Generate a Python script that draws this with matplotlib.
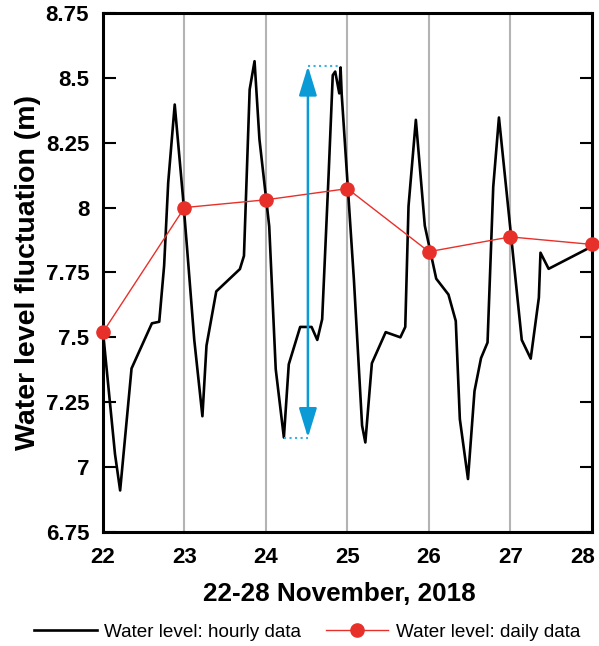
import matplotlib
matplotlib.use("Agg")
import matplotlib.pyplot as plt
from matplotlib.transforms import ScaledTranslation

plt.rcParams['font.family'] = ['Liberation Sans', 'DejaVu Sans']

# Daily data
days_d = [22, 23, 24, 25, 26, 27, 28]
vals_d = [7.52, 8.00, 8.03, 8.073, 7.83, 7.887, 7.858]

# Hourly data (vertices)
days_h = [22.0, 22.147, 22.21, 22.35, 22.60, 22.69, 22.75, 22.80, 22.88, 22.98,
          23.03, 23.12, 23.22, 23.27, 23.39, 23.68, 23.73, 23.80, 23.86, 23.92,
          24.04, 24.12, 24.22, 24.28, 24.42, 24.56, 24.63, 24.69, 24.77,
          24.82, 24.85, 24.90, 24.916, 24.93,
          25.08, 25.18, 25.22, 25.30, 25.47, 25.65, 25.71, 25.75, 25.84, 25.95,
          26.09, 26.24, 26.33, 26.38, 26.48, 26.56, 26.64, 26.72, 26.79, 26.86,
          27.14, 27.25, 27.35, 27.37, 27.47, 28.0]
vals_h = [7.52, 7.05, 6.91, 7.38, 7.554, 7.56, 7.776, 8.096, 8.397, 8.045,
          7.85, 7.49, 7.196, 7.468, 7.677, 7.763, 7.814, 8.455, 8.564, 8.263,
          7.928, 7.377, 7.114, 7.396, 7.54, 7.54, 7.49, 7.57, 8.133,
          8.51, 8.524, 8.44, 8.54, 8.435,
          7.72, 7.16, 7.095, 7.40, 7.52, 7.50, 7.54, 8.005, 8.338, 7.93,
          7.726, 7.665, 7.563, 7.185, 6.954, 7.293, 7.42, 7.48, 8.08, 8.347,
          7.49, 7.418, 7.653, 7.826, 7.764, 7.85]

# Range annotation (min/max of the fluctuation)
arrow_day = 24.515
range_low = 7.114
range_high = 8.545
low_day = 24.22
high_day = 24.916

yticks = [6.75, 7, 7.25, 7.5, 7.75, 8, 8.25, 8.5, 8.75]
ytick_labels = ['6.75', '7', '7.25', '7.5', '7.75', '8', '8.25', '8.5', '8.75']
xticks = [22, 23, 24, 25, 26, 27, 28]

fig = plt.figure(figsize=(5.99, 6.46), dpi=100)
ax = fig.add_axes([0.172, 0.1765, 0.816, 0.8035])

for d in xticks[1:-1]:
    ax.axvline(d, color='#b3b3b3', lw=1.5, zorder=0)

ax.plot(days_h, vals_h, color='black', lw=1.9, zorder=2,
        label='Water level: hourly data')
ax.plot(days_d, vals_d, color='#e8302a', lw=1.0, marker='o', ms=9.5,
        zorder=3, clip_on=False, label='Water level: daily data')

blue = '#0a9ad6'
ax.annotate('', xy=(arrow_day, range_high), xytext=(arrow_day, range_low),
            arrowprops=dict(arrowstyle='<|-|>,head_length=1.8,head_width=0.55',
                            color=blue, lw=1.8, shrinkA=0, shrinkB=0,
                            mutation_scale=10), zorder=4)
ax.plot([arrow_day, high_day], [range_high, range_high], color='#3ab0e0',
        ls=':', lw=1.5, zorder=4)
ax.plot([low_day, arrow_day], [range_low, range_low], color='#3ab0e0',
        ls=':', lw=1.5, zorder=4)

ax.set_xlim(22, 28)
ax.set_ylim(6.75, 8.75)
ax.set_yticks(yticks)
ax.set_yticklabels(ytick_labels)
ax.set_xticks(xticks)
ax.tick_params(axis='y', direction='in', length=9, width=1.5, right=True,
               labelsize=16, pad=10)
ax.tick_params(axis='x', length=0, labelsize=16, pad=11)
for lab in ax.get_xticklabels() + ax.get_yticklabels():
    lab.set_fontweight('bold')
last = ax.get_xticklabels()[-1]
last.set_transform(last.get_transform() + ScaledTranslation(-0.09, 0, fig.dpi_scale_trans))
for sp in ax.spines.values():
    sp.set_linewidth(2.2)

ax.set_xlabel('22-28 November, 2018', fontsize=18.8, fontweight='bold')
ax.xaxis.set_label_coords(0.483, -0.097, transform=ax.transAxes)
ax.xaxis.label.set_va('top')
ax.set_ylabel('Water level fluctuation (m)', fontsize=20.5, fontweight='bold', labelpad=3)

fig.legend(loc='lower center', bbox_to_anchor=(0.513, -0.018), ncol=2,
           frameon=False, fontsize=13.6, handlelength=3.3, columnspacing=1.3,
           handletextpad=0.4)

fig.savefig('out.png', dpi=100)
